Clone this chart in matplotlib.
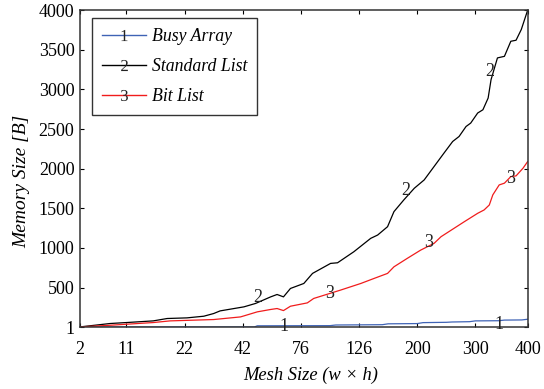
import matplotlib.pyplot as plt
from matplotlib.lines import Line2D

plt.rcParams['font.family'] = 'Liberation Serif'
plt.rcParams['mathtext.fontset'] = 'custom'
plt.rcParams['mathtext.rm'] = 'Liberation Serif'

# posicion en el eje de mallas (indice 0..77) y memoria en bytes
mesh_ticks = [0, 8, 18, 28, 38, 48, 58, 68, 77]
mesh_labels = ['2', '11', '22', '42', '76', '126', '200', '300', '400']

x_busy = [0, 30, 30.5, 43, 44, 52, 53, 58, 59, 63, 64, 67, 68, 72, 73, 76, 77]
y_busy = [2, 3, 18, 20, 28, 32, 43, 46, 58, 62, 66, 70, 80, 82, 90, 92, 101]

x_std = [0, 5.2, 8, 12.6, 15, 18.4, 21.3, 23, 24.1, 28.2, 30.2, 32.8, 33.9, 35,
         36.2, 38.5, 40, 43.1, 44.3, 47.1, 50, 51.2, 52.9, 54, 55.7, 57.5, 59.2,
         60.9, 62.6, 64.1, 65.2, 66.4, 67.2, 68.4, 69.3, 70.2, 70.7, 71.8, 73,
         74.1, 75, 75.9, 77]
y_std = [4, 47, 59, 80, 110, 118, 139, 173, 206, 257, 300, 383, 413, 383,
         489, 552, 679, 805, 813, 952, 1121, 1163, 1268, 1458, 1606, 1753, 1858,
         2027, 2196, 2343, 2406, 2532, 2575, 2702, 2743, 2891, 3123, 3397, 3417,
         3607, 3620, 3755, 4000]

x_bit = [0, 5.2, 12.6, 15.5, 23, 27.6, 28.2, 30.5, 32.8, 33.9, 35, 36.2, 39.1,
         40.2, 44.8, 48.3, 50.6, 52.9, 54, 56.3, 58.6, 60.9, 62.1, 66.1, 68.4,
         69.5, 70.4, 71, 72.1, 73, 74.1, 75, 76.2, 77]
y_bit = [4, 25, 59, 80, 97, 130, 143, 194, 224, 236, 210, 265, 307,
         363, 468, 552, 616, 679, 762, 869, 973, 1058, 1142, 1331, 1437,
         1479, 1542, 1669, 1795, 1817, 1900, 1909, 2006, 2090]

# etiquetas numericas sobre las curvas
etiquetas = [
    ('1', 35, 12), ('1', 72, 40),
    ('2', 30.5, 370), ('2', 56, 1730), ('2', 70.5, 3230),
    ('3', 43, 430), ('3', 60, 1070), ('3', 74, 1880),
]

azul = '#3f63b5'
rojo = '#f01c1c'

fig = plt.figure(figsize=(5.44, 3.89), dpi=100)
ax = fig.add_axes([0.147, 0.159, 0.823, 0.815])

ax.plot(x_busy, y_busy, color=azul, lw=0.9)
ax.plot(x_std, y_std, color='k', lw=0.9)
ax.plot(x_bit, y_bit, color=rojo, lw=0.9)

for texto, xi, yi in etiquetas:
    ax.text(xi, yi, texto, fontsize=13, ha='center', va='center', color='#222222')

ax.set_xlim(0, 77)
ax.set_ylim(1, 4000)
ax.set_xticks(mesh_ticks)
ax.set_xticklabels(mesh_labels)
ax.set_yticks([1, 500, 1000, 1500, 2000, 2500, 3000, 3500, 4000])
ax.tick_params(direction='in', top=True, right=True, length=3, labelsize=13,
               width=0.8, pad=4)
ax.tick_params(axis='x', pad=10)
for s in ax.spines.values():
    s.set_linewidth(1.1)
    s.set_color('#333333')

ax.set_xlabel('Mesh Size (w \u00d7 h)', fontstyle='italic', fontsize=13.3,
              labelpad=6, x=0.515)
ax.set_ylabel('Memory Size [B]', fontstyle='italic', fontsize=14, labelpad=6,
              y=0.46)

handles = [
    Line2D([], [], color=azul, lw=1, marker=r'$\mathrm{1}$', markersize=8,
           markerfacecolor='#222222', markeredgecolor='#222222', markeredgewidth=0),
    Line2D([], [], color='k', lw=1, marker=r'$\mathrm{2}$', markersize=8,
           markerfacecolor='#222222', markeredgecolor='#222222', markeredgewidth=0),
    Line2D([], [], color=rojo, lw=1, marker=r'$\mathrm{3}$', markersize=8,
           markerfacecolor='#222222', markeredgecolor='#222222', markeredgewidth=0),
]
leg = ax.legend(handles, ['Busy Array', 'Standard List', 'Bit List'],
                loc='upper left', bbox_to_anchor=(0.027, 0.975), borderaxespad=0,
                fancybox=False, edgecolor='k', handlelength=2.5, numpoints=1,
                prop={'style': 'italic', 'size': 12.8}, borderpad=0.55,
                labelspacing=0.75, handletextpad=0.3)
leg.get_frame().set_linewidth(1.0)

fig.savefig('out.png', dpi=100)
